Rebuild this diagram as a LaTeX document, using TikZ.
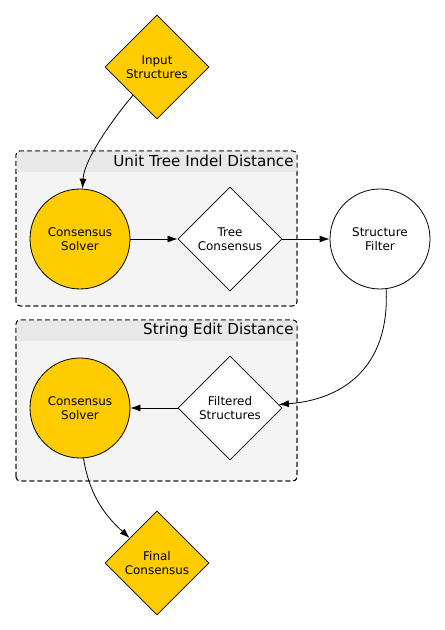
\documentclass[tikz,border=0pt]{standalone}
\usepackage{fontspec}
\setmainfont{DejaVu Sans}
\definecolor{solvergold}{HTML}{FFCC00}
\definecolor{clusterbody}{HTML}{F4F4F4}
\definecolor{clusterhead}{HTML}{E8E8E8}
\usetikzlibrary{shapes.geometric,arrows.meta}
\tikzset{
  datanode/.style={diamond,draw=black,fill=white,inner sep=0pt,minimum width=104bp,minimum height=104bp,align=center,font=\fontsize{12}{14}\selectfont},
  stepnode/.style={circle,draw=black,fill=white,inner sep=0pt,minimum size=100bp,align=center,font=\fontsize{12}{14}\selectfont},
  clusterbox/.style={draw=black,dash pattern=on 5bp off 3bp,fill=clusterbody,rounded corners=4bp},
  clusterlabel/.style={anchor=east,inner sep=0pt,font=\fontsize{15.2}{17}\selectfont},
}
\begin{document}
\begin{tikzpicture}[>={Latex[length=10bp,width=7bp]},line join=bevel,line width=0.8bp]
\useasboundingbox (0bp,0bp) rectangle (445bp,630bp);
%% clusters
\draw [clusterbox] (16bp,324bp) rectangle (297bp,479bp);
\begin{scope}
\clip [rounded corners=4bp] (16bp,324bp) rectangle (297bp,479bp);
\fill [clusterhead] (16bp,458bp) rectangle (297bp,479bp);
\end{scope}
\draw [clusterbox,fill=none] (16bp,324bp) rectangle (297bp,479bp);
\node (uted) at (294bp,469bp) [clusterlabel] {Unit Tree Indel Distance};
%
\draw [clusterbox] (16bp,149bp) rectangle (297bp,310bp);
\begin{scope}
\clip [rounded corners=4bp] (16bp,149bp) rectangle (297bp,310bp);
\fill [clusterhead] (16bp,289bp) rectangle (297bp,310bp);
\end{scope}
\draw [clusterbox,fill=none] (16bp,149bp) rectangle (297bp,310bp);
\node (sed) at (294bp,300bp) [clusterlabel] {String Edit Distance};
%%
\node (input) at (157bp,563bp) [datanode,fill=solvergold] {Input\\Structures};
  \node (solver1) at (80bp,391bp) [stepnode,fill=solvergold] {Consensus\\Solver};
  \node (treecons) at (230bp,391bp) [datanode] {Tree\\Consensus};
  \node (filter) at (380bp,391bp) [stepnode] {Structure\\Filter};
  \node (filtered) at (230bp,222bp) [datanode] {Filtered\\Structures};
  \node (solver2) at (80bp,222bp) [stepnode,fill=solvergold] {Consensus\\Solver};
  \node (final) at (157bp,67bp) [datanode,fill=solvergold] {Final\\Consensus};
  \draw [black,->] (input) ..controls (112bp,510bp) and (84bp,470bp)  .. (solver1);
  \draw [black,->] (solver1) -- (treecons);
  \draw [black,->] (treecons) -- (filter);
  \draw [black,->] (filter.-83) ..controls (390bp,260bp) and (340bp,230bp)  .. (filtered);
  \draw [black,->] (filtered) -- (solver2);
  \draw [black,->] (solver2.-86) ..controls (90bp,130bp) and (110bp,110bp)  .. (final);
%
\end{tikzpicture}
\end{document}
